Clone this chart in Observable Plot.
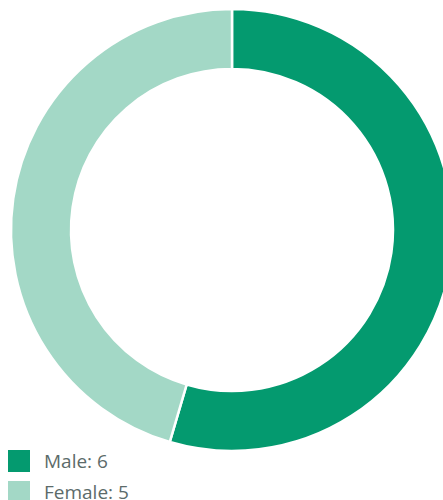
<!DOCTYPE html>
<html>
<head>
<meta charset="utf-8">
<script src="https://cdn.jsdelivr.net/npm/d3@7"></script>
<script src="https://cdn.jsdelivr.net/npm/@observablehq/plot@0.6"></script>
<style>
  html, body { margin: 0; padding: 0; background: #fff; overflow: hidden; width: 443px; height: 500px; }
  #chart svg { display: block; overflow: hidden; }
  .legend { font-family: "Open Sans", Lato, sans-serif; font-weight: 400; font-size: 19px; color: #5c6b6a; }
  .legend .row { display: flex; align-items: center; height: 22px; margin-bottom: 9px; }
  .legend .sw { width: 22px; height: 22px; margin-left: 8px; margin-right: 14px; }
</style>
</head>
<body>
<div id="chart"></div>
<script>
const categories = ["Male", "Female"];
const values = [6, 5];
const colors = ["#049a6f", "#a3d8c6"];

const data = categories.map((c, i) => ({category: c, value: values[i]}));
const color = Plot.scale({color: {domain: categories, range: colors}});

const W = 443, H = 450;
const cx = 232, cy = 230, outer = 221, inner = 161;

function donut(index, scales, vals, dims) {
  const pie = d3.pie().sort(null).value(d => d.value)(data);
  const arc = d3.arc().innerRadius(inner).outerRadius(outer);
  const g = d3.create("svg:g").attr("transform", `translate(${cx},${cy})`);
  g.selectAll("path").data(pie).join("path")
    .attr("d", arc)
    .attr("fill", d => scales.color(d.data.category))
    .attr("stroke", "#fff")
    .attr("stroke-width", 2.5);
  return g.node();
}

const plot = Plot.plot({
  width: W, height: H, margin: 0,
  x: {axis: null}, y: {axis: null},
  color: {domain: categories, range: colors},
  marks: [
    Plot.dot(data, {x: () => 0, y: () => 0, fill: "category", r: 0}),
    donut
  ]
});
document.getElementById("chart").appendChild(plot);

const legend = d3.select("body").append("div").attr("class", "legend");
const rows = legend.selectAll(".row").data(data).join("div").attr("class", "row");
rows.append("div").attr("class", "sw").style("background", d => color.apply(d.category));
rows.append("span").text(d => `${d.category}: ${d.value}`);
</script>
</body>
</html>
